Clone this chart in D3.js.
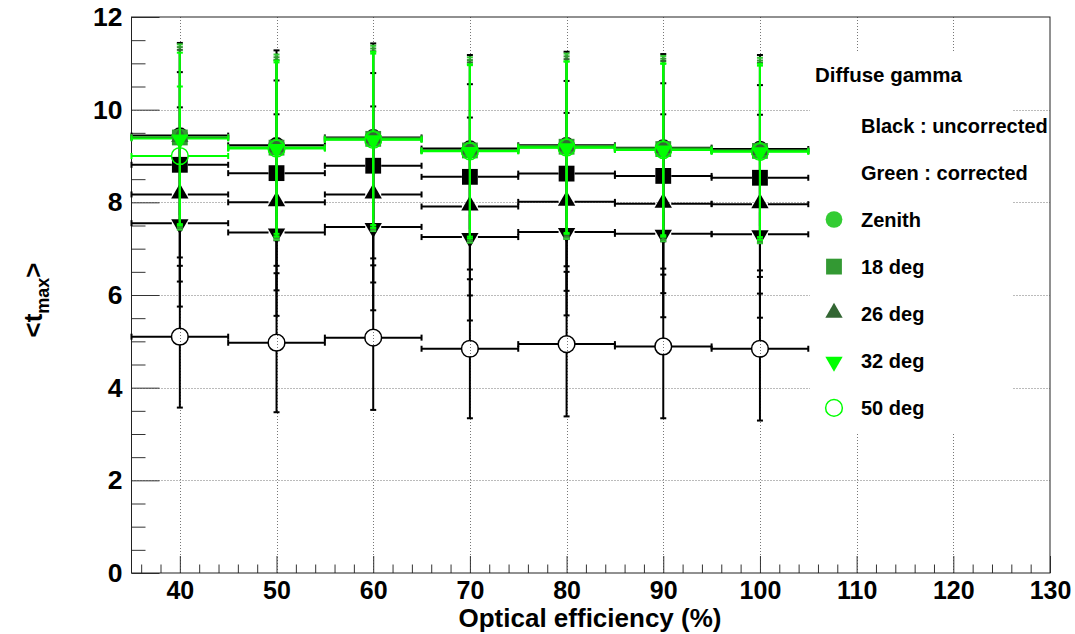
<!DOCTYPE html>
<html><head><meta charset="utf-8">
<script src="https://cdn.jsdelivr.net/npm/d3@7"></script>
<style>
html,body{margin:0;padding:0;background:#fff;}
svg text{font-family:"Liberation Sans",Arial,Helvetica,sans-serif;font-weight:bold;fill:#000;}
</style></head>
<body><svg id="c" width="1075" height="634"></svg>
<script>
// ---- data ----
const efficiency = [40, 50, 60, 70, 80, 90, 100];
const binHalfWidth = 5;
const xTicks = [40, 50, 60, 70, 80, 90, 100, 110, 120, 130];
const yTicks = [0, 2, 4, 6, 8, 10, 12];

// uncorrected (black)
const blackZenith = [9.44, 9.23, 9.40, 9.16, 9.23, 9.18, 9.15];
const black18 = [8.81, 8.63, 8.79, 8.55, 8.62, 8.57, 8.53];
const black26 = [8.17, 8.00, 8.17, 7.91, 8.01, 7.97, 7.96];
const black32 = [7.55, 7.35, 7.47, 7.25, 7.36, 7.32, 7.31];
const black50 = [5.10, 4.97, 5.08, 4.84, 4.94, 4.89, 4.84];
const blackZenithErr = [2.00, 2.05, 2.03, 2.02, 2.02, 2.02, 2.03];
const black18Err = [2.0, 2.0, 2.0, 2.0, 2.0, 2.0, 2.0];
const black26Err = [1.88, 1.9, 1.9, 1.92, 1.92, 1.93, 1.93];
const black32Err = [1.8, 1.8, 1.8, 1.8, 1.8, 1.8, 1.8];
const black50Err = [1.53, 1.50, 1.56, 1.50, 1.56, 1.55, 1.55];

// corrected (green)
const greenZenith = [9.41, 9.19, 9.38, 9.13, 9.21, 9.16, 9.12];
const green18 = [9.40, 9.18, 9.37, 9.12, 9.20, 9.15, 9.11];
const green26 = [9.39, 9.17, 9.36, 9.12, 9.19, 9.15, 9.11];
const green32 = [9.38, 9.17, 9.36, 9.11, 9.19, 9.14, 9.10];
const green50 = [9.00, 9.16, 9.35, 9.10, 9.18, 9.13, 9.09];
const greenZenithErr = [2.0, 2.0, 2.0, 2.0, 2.0, 2.0, 2.0];
const green18Err = [1.95, 1.95, 1.95, 1.95, 1.95, 1.95, 1.95];
const green26Err = [1.9, 1.9, 1.9, 1.9, 1.9, 1.9, 1.9];
const green32Err = [1.85, 1.85, 1.85, 1.85, 1.85, 1.85, 1.85];
const green50Err = [1.5, 1.9, 1.9, 1.88, 1.86, 1.87, 1.9];

const legendHeader = "Diffuse gamma";
const legendNotes = ["Black : uncorrected", "Green : corrected"];
const angleLabels = ["Zenith", "18 deg", "26 deg", "32 deg", "50 deg"];
const markerKinds = ["circle", "square", "triUp", "triDown", "openCircle"];
const greenColors = ["#33cc33", "#339933", "#336633", "#00ff00", "#00ff00"];

// ---- layout ----
const svg = d3.select("#c");
const L = 131.5, R = 1050, T = 17, B = 573;
const x = d3.scaleLinear().domain([35, 130]).range([L, R]);
const y = d3.scaleLinear().domain([0, 12]).range([B, T]);

// grid
const grid = svg.append("g").attr("stroke", "#777").attr("stroke-width", 1).attr("stroke-dasharray", "1,2");
xTicks.filter(v => v > 35 && v < 130).forEach(v => {
  grid.append("line").attr("x1", Math.round(x(v)) + 0.5).attr("x2", Math.round(x(v)) + 0.5).attr("y1", T).attr("y2", B);
});
yTicks.filter(v => v > 0 && v < 12).forEach(v => {
  grid.append("line").attr("y1", Math.round(y(v)) + 0.5).attr("y2", Math.round(y(v)) + 0.5).attr("x1", L).attr("x2", R);
});

// axes
const xMinor = d3.range(36, 131, 2).filter(v => v % 10 !== 0);
const yMinor = d3.range(0.5, 12, 0.5).filter(v => v % 2 !== 0);
const ax = svg.append("g").attr("transform", `translate(0,${B})`);
ax.call(d3.axisBottom(x).tickValues(xTicks).tickSize(-17).tickPadding(6).tickFormat(d3.format("d")));
ax.selectAll("text").attr("font-size", 25).attr("dy", "0.78em");
const axm = svg.append("g").attr("transform", `translate(0,${B})`);
axm.call(d3.axisBottom(x).tickValues(xMinor).tickSize(-8.5).tickFormat(""));
const ay = svg.append("g").attr("transform", `translate(${L},0)`);
ay.call(d3.axisLeft(y).tickValues(yTicks).tickSize(-28).tickPadding(9).tickFormat(d3.format("d")));
ay.selectAll("text").attr("font-size", 26.5);
const aym = svg.append("g").attr("transform", `translate(${L},0)`);
aym.call(d3.axisLeft(y).tickValues(yMinor).tickSize(-14).tickFormat(""));
[ax, axm, ay, aym].forEach(g => { g.select(".domain").remove(); g.selectAll("line").attr("stroke", "#333"); });

// frame
svg.append("rect").attr("x", L).attr("y", T).attr("width", R - L).attr("height", B - T)
  .attr("fill", "none").attr("stroke", "#222").attr("stroke-width", 1);

// axis titles
svg.append("text").attr("x", 590).attr("y", 627).attr("text-anchor", "middle").attr("font-size", 26)
  .text("Optical efficiency (%)");
const yt = svg.append("text").attr("transform", "translate(42,300) rotate(-90)").attr("text-anchor", "middle").attr("font-size", 26);
yt.append("tspan").text("<t");
yt.append("tspan").attr("font-size", 18).attr("dy", 7).text("max");
yt.append("tspan").attr("dy", -7).text(">");

// marker helper
function markerPath(kind) {
  if (kind === "circle" || kind === "openCircle") return d3.symbol(d3.symbolCircle, 220)();
  if (kind === "square") return d3.symbol(d3.symbolSquare, 250)();
  return d3.symbol(d3.symbolTriangle, 130)();
}
function drawMarker(g, kind, cx, cy, color) {
  const p = g.append("path").attr("d", markerPath(kind));
  let tr = `translate(${cx},${cy})`;
  if (kind === "triDown") tr += " rotate(180)";
  if (kind === "triUp" || kind === "triDown") tr += " translate(0,-1)";
  p.attr("transform", tr);
  if (kind === "openCircle") p.attr("fill", "none").attr("stroke", color).attr("stroke-width", 1.5);
  else p.attr("fill", color);
}

function drawSeries(vals, errs, kind, lineColor, markerColor) {
  const g = svg.append("g");
  const gap = 8, cap = 3;
  vals.forEach((v, i) => {
    const cx = x(efficiency[i]), cy = y(v);
    const xl = x(efficiency[i] - binHalfWidth), xr = x(efficiency[i] + binHalfWidth);
    const yt = y(v + errs[i]), yb = y(v - errs[i]);
    const segs = [
      [xl, cy, cx - gap, cy], [cx + gap, cy, xr, cy],
      [cx, yt, cx, cy - gap], [cx, cy + gap, cx, yb]
    ];
    segs.forEach(s => g.append("line").attr("x1", s[0]).attr("y1", s[1]).attr("x2", s[2]).attr("y2", s[3])
      .attr("stroke", lineColor).attr("stroke-width", 2));
    [[xl, cy - cap, xl, cy + cap], [xr, cy - cap, xr, cy + cap], [cx - cap, yt, cx + cap, yt], [cx - cap, yb, cx + cap, yb]]
      .forEach(s => g.append("line").attr("x1", s[0]).attr("y1", s[1]).attr("x2", s[2]).attr("y2", s[3])
        .attr("stroke", lineColor).attr("stroke-width", 2));
    drawMarker(g, kind, cx, cy, markerColor);
  });
}

const blackSeries = [[blackZenith, blackZenithErr], [black18, black18Err], [black26, black26Err], [black32, black32Err], [black50, black50Err]];
const greenSeries = [[greenZenith, greenZenithErr], [green18, green18Err], [green26, green26Err], [green32, green32Err], [green50, green50Err]];
blackSeries.forEach((s, k) => drawSeries(s[0], s[1], markerKinds[k], "#000", "#000"));
greenSeries.forEach((s, k) => drawSeries(s[0], s[1], markerKinds[k], greenColors[k], greenColors[k]));

// legend
const lg = svg.append("g");
lg.append("rect").attr("x", 810).attr("y", 52).attr("width", 203).attr("height", 380).attr("fill", "#fff");
lg.append("text").attr("x", 815).attr("y", 75).attr("dy", "0.35em").attr("font-size", 20.5).text(legendHeader);
legendNotes.forEach((t, i) => lg.append("text").attr("x", 861).attr("y", 126 + i * 46.5).attr("dy", "0.35em").attr("font-size", 20).text(t));
angleLabels.forEach((t, i) => {
  const ly = 219.5 + i * 47.1;
  drawMarker(lg, markerKinds[i], 834, ly, greenColors[i]);
  lg.append("text").attr("x", 861).attr("y", ly).attr("dy", "0.35em").attr("font-size", 20).text(t);
});
</script></body></html>
